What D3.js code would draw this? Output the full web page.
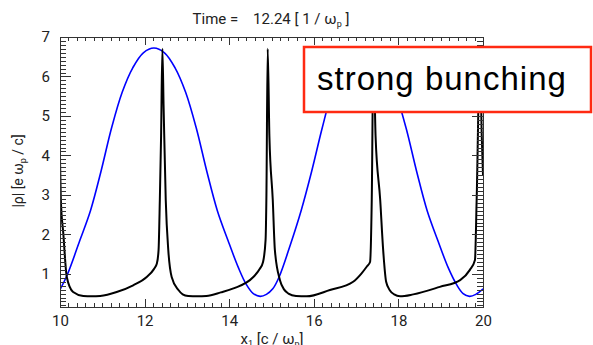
<!DOCTYPE html>
<html>
<head>
<meta charset="utf-8">
<script src="https://cdn.jsdelivr.net/npm/d3@7"></script>
<style>
  html, body { margin: 0; padding: 0; background: #fff; }
  svg { display: block; }
</style>
</head>
<body>
<svg id="chart" width="593" height="345"></svg>
<script>
// Axis ranges and ticks
const xDomain = [10, 20];
const yDomain = [0.16, 7];
const xMajorTicks = [10, 12, 14, 16, 18, 20];
const yMajorTicks = [1, 2, 3, 4, 5, 6, 7];

// Field profile (blue)
const fieldX = [10.00, 10.17, 10.47, 10.72, 10.97, 11.22, 11.47, 11.72, 11.97, 12.22, 12.47, 12.72, 12.97, 13.22, 13.47, 13.72, 13.97, 14.22, 14.40, 14.57, 14.73, 14.88, 15.03, 15.18, 15.45, 15.70, 15.95, 16.20, 16.43, 16.68, 16.93, 17.18, 17.43, 17.68, 17.93, 18.18, 18.43, 18.68, 18.93, 19.18, 19.38, 19.53, 19.68, 19.83, 20.00];
const fieldY = [0.60, 0.97, 1.85, 2.60, 3.60, 4.70, 5.60, 6.22, 6.60, 6.72, 6.60, 6.22, 5.60, 4.70, 3.60, 2.60, 1.85, 1.15, 0.74, 0.50, 0.43, 0.48, 0.62, 0.92, 1.75, 2.60, 3.60, 4.70, 5.60, 6.22, 6.60, 6.72, 6.60, 6.22, 5.60, 4.70, 3.60, 2.60, 1.85, 1.15, 0.72, 0.50, 0.43, 0.48, 0.62];

// Charge density |rho| (black)
const rhoX = [10.00, 10.02, 10.08, 10.16, 10.31, 10.55, 10.75, 10.95, 11.34, 11.73, 12.05, 12.22, 12.29, 12.33, 12.36, 12.39, 12.42, 12.45, 12.50, 12.56, 12.64, 12.80, 12.90, 13.03, 13.25, 13.46, 13.80, 14.10, 14.57, 14.72, 14.80, 14.86, 14.88, 14.91, 14.95, 15.03, 15.08, 15.20, 15.30, 15.40, 15.58, 15.83, 16.38, 16.93, 17.12, 17.25, 17.33, 17.37, 17.41, 17.46, 17.57, 17.64, 17.71, 17.80, 17.90, 18.04, 18.35, 18.98, 19.46, 19.69, 19.81, 19.85, 19.93, 19.97, 20.00];
const rhoY = [3.90, 2.87, 2.00, 0.92, 0.54, 0.44, 0.43, 0.44, 0.54, 0.71, 0.92, 1.12, 1.26, 1.60, 2.87, 4.50, 6.70, 5.20, 2.87, 1.60, 0.92, 0.59, 0.48, 0.44, 0.43, 0.44, 0.53, 0.63, 0.92, 1.12, 1.30, 1.86, 3.00, 6.70, 4.50, 2.87, 1.60, 0.84, 0.60, 0.50, 0.44, 0.43, 0.59, 0.80, 1.00, 1.18, 1.30, 2.87, 6.70, 4.50, 2.87, 1.60, 0.80, 0.58, 0.48, 0.43, 0.48, 0.67, 0.84, 1.10, 1.35, 2.87, 6.70, 4.50, 3.50];

const titleValue = "12.24";
const annotation = "strong bunching";

const svg = d3.select("#chart");
const m = { left: 60, right: 483, top: 37, bottom: 307 };

const x = d3.scaleLinear().domain(xDomain).range([m.left, m.right]);
const y = d3.scaleLinear().domain(yDomain).range([m.bottom, m.top]);

svg.append("defs").append("clipPath").attr("id", "plotclip")
  .append("rect")
  .attr("x", m.left).attr("y", m.top)
  .attr("width", m.right - m.left).attr("height", m.bottom - m.top);

// Curves
const plot = svg.append("g").attr("clip-path", "url(#plotclip)");
const smooth = d3.line().x(d => x(d[0])).y(d => y(d[1])).curve(d3.curveCatmullRom.alpha(0.5));
const sharp = d3.line().x(d => x(d[0])).y(d => y(d[1])).curve(d3.curveMonotoneX);

plot.append("path")
  .datum(fieldX.map((v, i) => [v, fieldY[i]]))
  .attr("d", smooth)
  .attr("fill", "none").attr("stroke", "#0000ff").attr("stroke-width", 1.6);

plot.append("path")
  .datum(rhoX.map((v, i) => [v, rhoY[i]]))
  .attr("d", sharp)
  .attr("fill", "none").attr("stroke", "#000").attr("stroke-width", 2)
  .attr("stroke-linejoin", "round");

// Frame with inward ticks on all four sides
const frameColor = "#333";
const axisG = svg.append("g").attr("stroke", frameColor).attr("stroke-width", 1).attr("shape-rendering", "crispEdges");
axisG.append("rect")
  .attr("x", m.left).attr("y", m.top)
  .attr("width", m.right - m.left).attr("height", m.bottom - m.top)
  .attr("fill", "none");

const xMinor = d3.range(10, 20.0001, 0.2).map(v => +v.toFixed(2));
const yMinor = d3.range(0.2, 7.0001, 0.1).map(v => +v.toFixed(2));

xMinor.forEach(v => {
  const major = xMajorTicks.some(t => Math.abs(t - v) < 1e-6);
  const len = major ? 8 : 4;
  const px = Math.round(x(v)) + 0.5;
  axisG.append("line").attr("x1", px).attr("x2", px).attr("y1", m.bottom).attr("y2", m.bottom - len);
  axisG.append("line").attr("x1", px).attr("x2", px).attr("y1", m.top).attr("y2", m.top + len);
});
yMinor.forEach(v => {
  const major = yMajorTicks.some(t => Math.abs(t - v) < 1e-6);
  const len = major ? 11 : 6;
  const py = Math.round(y(v)) + 0.5;
  axisG.append("line").attr("y1", py).attr("y2", py).attr("x1", m.left).attr("x2", m.left + len);
  axisG.append("line").attr("y1", py).attr("y2", py).attr("x1", m.right).attr("x2", m.right - len);
});

// Tick labels via d3 axis generators (lines hidden, text kept)
const font = "Roboto, 'Noto Sans', sans-serif";
const xAxis = d3.axisBottom(x).tickValues(xMajorTicks).tickSize(0).tickPadding(8).tickFormat(d3.format("d"));
const gx = svg.append("g").attr("transform", `translate(0,${m.bottom})`).call(xAxis);
gx.select(".domain").remove();
gx.selectAll("text").attr("font-family", font).attr("font-size", 15).attr("fill", "#222");

const yAxis = d3.axisLeft(y).tickValues(yMajorTicks).tickSize(0).tickPadding(10).tickFormat(d3.format("d"));
const gy = svg.append("g").attr("transform", `translate(${m.left},0)`).call(yAxis);
gy.select(".domain").remove();
gy.selectAll("text").attr("font-family", font).attr("font-size", 15).attr("fill", "#222");

// Title
const title = svg.append("text")
  .attr("x", 271).attr("y", 24)
  .attr("text-anchor", "middle")
  .attr("font-family", font).attr("font-size", 15).attr("fill", "#222")
  .attr("xml:space", "preserve");
title.append("tspan").text(`Time =    ${titleValue} [ 1 / ω`);
title.append("tspan").attr("font-size", 9).attr("dy", 3).text("p");
title.append("tspan").attr("dy", -3).text(" ]");

// X axis label
const xl = svg.append("text")
  .attr("x", 272).attr("y", 344)
  .attr("text-anchor", "middle")
  .attr("font-family", font).attr("font-size", 15).attr("fill", "#222");
xl.append("tspan").text("x");
xl.append("tspan").attr("font-size", 9).attr("dy", 3).text("1");
xl.append("tspan").attr("dy", -3).text(" [c / ω");
xl.append("tspan").attr("font-size", 9).attr("dy", 3).text("p");
xl.append("tspan").attr("dy", -3).text("]");

// Y axis label
const yl = svg.append("text")
  .attr("transform", "translate(23,171) rotate(-90)")
  .attr("text-anchor", "middle")
  .attr("font-family", font).attr("font-size", 14).attr("fill", "#222");
yl.append("tspan").text("|ρ| [e ω");
yl.append("tspan").attr("font-size", 9).attr("dy", 3).text("p");
yl.append("tspan").attr("dy", -3).text(" / c]");

// Annotation box
svg.append("rect")
  .attr("x", 304).attr("y", 47)
  .attr("width", 287).attr("height", 65)
  .attr("fill", "#fff").attr("stroke", "#ff2a12").attr("stroke-width", 2.5);
svg.append("text")
  .attr("x", 317).attr("y", 90)
  .attr("font-family", "'Liberation Sans', Arial, sans-serif")
  .attr("font-size", 33).attr("letter-spacing", 1).attr("fill", "#000")
  .text(annotation);
</script>
</body>
</html>
